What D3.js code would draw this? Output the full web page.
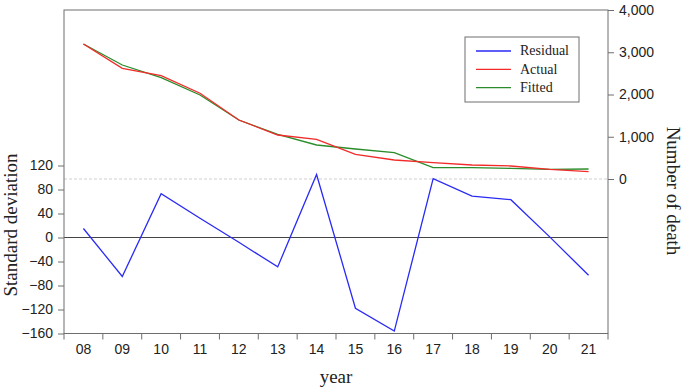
<!DOCTYPE html>
<html>
<head>
<meta charset="utf-8">
<script src="https://cdn.jsdelivr.net/npm/d3@7"></script>
<style>
    html, body { margin: 0; padding: 0; background: #fff; }
    svg { display: block; }
    .tick text { font-family: "Liberation Sans", Arial, sans-serif; font-size: 14px; fill: #222; }
    .title { font-family: "Liberation Serif", "Times New Roman", serif; font-size: 19px; fill: #222; }
    .legend text { font-family: "Liberation Serif", "Times New Roman", serif; font-size: 14px; fill: #222; }
</style>
</head>
<body>
<div id="chart"></div>
<script>
"use strict";

// data
const years = ["08", "09", "10", "11", "12", "13", "14", "15", "16", "17", "18", "19", "20", "21"];
const residual = [15, -65, 73, 32, -8, -49, 105, -118, -156, 98, 69, 63, 1, -63];
const actual = [3195, 2620, 2445, 2030, 1396, 1041, 940, 585, 450, 386, 331, 308, 230, 173];
const fitted = [3195, 2698, 2398, 1988, 1396, 1058, 805, 710, 622, 267, 267, 253, 230, 237];
const leftTicks = [120, 80, 40, 0, -40, -80, -120, -160];
const rightTicks = [0, 1000, 2000, 3000, 4000];
const seriesNames = ["Residual", "Actual", "Fitted"];

function residualChart(container) {

    // setting
    const setting = {
        width: 685,
        height: 389,
        plot: { left: 64, right: 608, top: 10, bottom: 333.5 },
        colors: { Residual: "#2a2af5", Actual: "#f22a2a", Fitted: "#2a8c2a" },
        frame: "#6e6e6e"
    };

    let svg = d3.select(container)
    .append("svg")
    .attr("width", setting.width)
    .attr("height", setting.height);



    // scales
    let scaleX = d3.scaleBand()
    .domain(years)
    .range([setting.plot.left, setting.plot.right]);

    let scaleYLeft = d3.scaleLinear()
    .domain([-160, 120])
    .range([setting.plot.bottom, 165.5]);

    let scaleYRight = d3.scaleLinear()
    .domain([0, 4000])
    .range([179, setting.plot.top]);



    // dashed line at right zero + solid line at left zero
    svg.append("line")
    .attr("x1", setting.plot.left)
    .attr("x2", setting.plot.right)
    .attr("y1", scaleYRight(0))
    .attr("y2", scaleYRight(0))
    .attr("stroke", "#cfcfcf")
    .attr("stroke-dasharray", "3,2");

    svg.append("line")
    .attr("x1", setting.plot.left)
    .attr("x2", setting.plot.right)
    .attr("y1", scaleYLeft(0))
    .attr("y2", scaleYLeft(0))
    .attr("stroke", "#444");



    // frame
    svg.append("rect")
    .attr("x", setting.plot.left)
    .attr("y", setting.plot.top)
    .attr("width", setting.plot.right - setting.plot.left)
    .attr("height", setting.plot.bottom - setting.plot.top)
    .attr("fill", "none")
    .attr("stroke", setting.frame);



    // left axis
    let leftAxis = svg.append("g")
    .attr("transform", `translate(${setting.plot.left}, 0)`)
    .call(d3.axisLeft(scaleYLeft).tickValues(leftTicks).tickSize(6).tickPadding(5));
    leftAxis.select(".domain").remove();
    leftAxis.selectAll(".tick line").attr("stroke", setting.frame);

    // right axis
    let rightAxis = svg.append("g")
    .attr("transform", `translate(${setting.plot.right}, 0)`)
    .call(d3.axisRight(scaleYRight).tickValues(rightTicks).tickSize(6).tickPadding(5).tickFormat(d3.format(",")));
    rightAxis.select(".domain").remove();
    rightAxis.selectAll(".tick line").attr("stroke", setting.frame);

    // bottom axis: ticks at band edges, labels at band centres
    let bottomAxis = svg.append("g")
    .attr("transform", `translate(0, ${setting.plot.bottom})`)
    .call(d3.axisBottom(scaleX).tickSize(0).tickPadding(11));
    bottomAxis.select(".domain").remove();

    svg.append("g")
    .selectAll("line")
    .data(years.concat(["end"]))
    .enter()
    .append("line")
    .attr("x1", (d, i) => i < years.length ? scaleX(d) : setting.plot.right)
    .attr("x2", (d, i) => i < years.length ? scaleX(d) : setting.plot.right)
    .attr("y1", setting.plot.bottom)
    .attr("y2", setting.plot.bottom + 6)
    .attr("stroke", setting.frame);



    // lines
    let line = (scaleY) => d3.line()
    .x((d, i) => scaleX(years[i]) + scaleX.bandwidth() / 2)
    .y(d => scaleY(d));

    svg.append("path")
    .datum(fitted)
    .attr("fill", "none")
    .attr("stroke", setting.colors.Fitted)
    .attr("stroke-width", 1.3)
    .attr("d", line(scaleYRight));

    svg.append("path")
    .datum(actual)
    .attr("fill", "none")
    .attr("stroke", setting.colors.Actual)
    .attr("stroke-width", 1.3)
    .attr("d", line(scaleYRight));

    svg.append("path")
    .datum(residual)
    .attr("fill", "none")
    .attr("stroke", setting.colors.Residual)
    .attr("stroke-width", 1.3)
    .attr("d", line(scaleYLeft));



    // titles
    svg.append("text")
    .attr("class", "title")
    .attr("text-anchor", "middle")
    .attr("transform", "translate(17, 225) rotate(-90)")
    .text("Standard deviation");

    svg.append("text")
    .attr("class", "title")
    .attr("text-anchor", "middle")
    .attr("transform", "translate(667, 191) rotate(90)")
    .text("Number of death");

    svg.append("text")
    .attr("class", "title")
    .attr("text-anchor", "middle")
    .attr("x", (setting.plot.left + setting.plot.right) / 2)
    .attr("y", 383)
    .text("year");



    // legend
    let legend = svg.append("g")
    .attr("class", "legend")
    .attr("transform", "translate(465, 37)");

    legend.append("rect")
    .attr("width", 114)
    .attr("height", 65)
    .attr("fill", "#fff")
    .attr("stroke", setting.frame);

    legend.selectAll("g.item")
    .data(seriesNames)
    .enter()
    .append("g")
    .attr("class", "item")
    .attr("transform", (d, i) => `translate(0, ${14 + i * 18.3})`)
    .each(function(d) {
        d3.select(this).append("line")
        .attr("x1", 11)
        .attr("x2", 46)
        .attr("stroke", setting.colors[d])
        .attr("stroke-width", 1.3);
        d3.select(this).append("text")
        .attr("x", 55)
        .attr("dy", "0.32em")
        .text(d);
    });
}

residualChart("#chart");
</script>
</body>
</html>
